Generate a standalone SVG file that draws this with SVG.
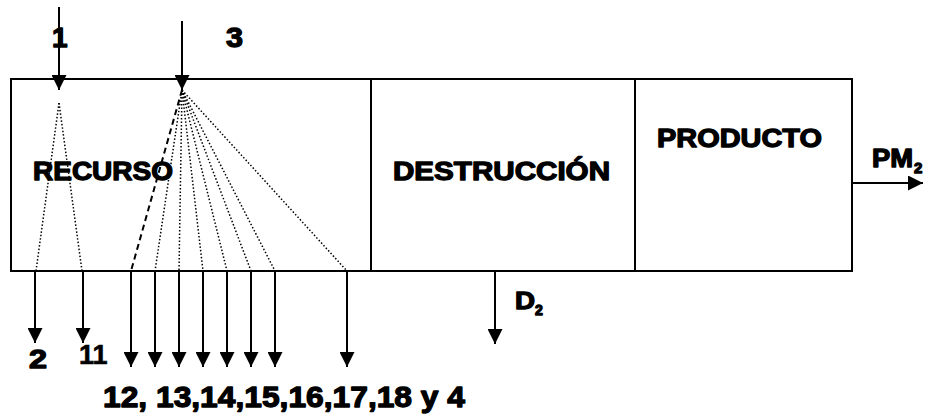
<svg xmlns="http://www.w3.org/2000/svg" width="931" height="417" viewBox="0 0 931 417">
<style>
.box{fill:#fff;stroke:#000;stroke-width:2}
.arr{fill:none;stroke:#000;stroke-width:2;marker-end:url(#ah)}
.dot{fill:none;stroke:#000;stroke-width:1.5;stroke-dasharray:1.5 2}
.dash{fill:none;stroke:#000;stroke-width:2;stroke-dasharray:6 4}
.t{font-family:"Liberation Sans",Arial,sans-serif;font-weight:bold;fill:#000}
.h{stroke:#000;stroke-width:1.3;stroke-linejoin:round}
.m{stroke:#000;stroke-width:0.6}
</style>
<defs>
<marker id="ah" markerUnits="userSpaceOnUse" markerWidth="16" markerHeight="15" refX="15" refY="7.5" orient="auto" viewBox="0 0 16 15">
<path d="M0,0 L15,7.5 L0,15 z" fill="#000"/>
</marker>
</defs>
<rect width="931" height="417" fill="#fff"/>
<g id="recurso">
<rect class="box" x="11" y="79" width="360" height="192"/>
<text class="t h" x="33" y="180" font-size="26" textLength="140" lengthAdjust="spacingAndGlyphs">RECURSO</text>
</g>
<g id="destruccion">
<rect class="box" x="371" y="79" width="264" height="192"/>
<text class="t h" x="393" y="180" font-size="26" textLength="217" lengthAdjust="spacingAndGlyphs">DESTRUCCIÓN</text>
</g>
<g id="producto">
<rect class="box" x="635" y="79" width="217" height="192"/>
<text class="t h" x="657" y="147" font-size="26" textLength="165" lengthAdjust="spacingAndGlyphs">PRODUCTO</text>
</g>
<g id="connectors">
<line class="arr" x1="59" y1="7" x2="59" y2="90"/>
<line class="arr" x1="182" y1="21" x2="182" y2="90"/>
<line class="dot" x1="59" y1="103" x2="36" y2="271"/>
<line class="dot" x1="59" y1="103" x2="82" y2="271"/>
<line class="dash" x1="182" y1="90" x2="131" y2="271"/>
<line class="dot" x1="182" y1="90" x2="155" y2="271"/>
<line class="dot" x1="182" y1="90" x2="179" y2="271"/>
<line class="dot" x1="182" y1="90" x2="203" y2="271"/>
<line class="dot" x1="182" y1="90" x2="227" y2="271"/>
<line class="dot" x1="182" y1="90" x2="251" y2="271"/>
<line class="dot" x1="182" y1="90" x2="275" y2="271"/>
<line class="dot" x1="182" y1="90" x2="347" y2="271"/>
<line class="arr" x1="35" y1="271" x2="35" y2="343"/>
<line class="arr" x1="83" y1="271" x2="83" y2="343"/>
<line class="arr" x1="131" y1="271" x2="131" y2="367"/>
<line class="arr" x1="155" y1="271" x2="155" y2="367"/>
<line class="arr" x1="179" y1="271" x2="179" y2="367"/>
<line class="arr" x1="203" y1="271" x2="203" y2="367"/>
<line class="arr" x1="227" y1="271" x2="227" y2="367"/>
<line class="arr" x1="251" y1="271" x2="251" y2="367"/>
<line class="arr" x1="275" y1="271" x2="275" y2="367"/>
<line class="arr" x1="347" y1="271" x2="347" y2="367"/>
<line class="arr" x1="495" y1="271" x2="495" y2="344"/>
<line class="arr" x1="852" y1="183" x2="923" y2="183"/>
</g>
<g id="labels">
<text class="t h" x="52" y="47" font-size="28">1</text>
<text class="t h" x="226" y="47" font-size="28" textLength="17" lengthAdjust="spacingAndGlyphs">3</text>
<text class="t h" x="29" y="368" font-size="26" textLength="18" lengthAdjust="spacingAndGlyphs">2</text>
<text class="t m" x="79" y="364" font-size="27">11</text>
<text class="t h" x="103" y="407" font-size="30" textLength="362" lengthAdjust="spacingAndGlyphs">12, 13,14,15,16,17,18 y 4</text>
<text class="t h" x="515" y="309" font-size="24" textLength="20" lengthAdjust="spacingAndGlyphs">D</text>
<text class="t h" x="535" y="315" font-size="14">2</text>
<text class="t h" x="872" y="167" font-size="25" textLength="41" lengthAdjust="spacingAndGlyphs">PM</text>
<text class="t h" x="914" y="173" font-size="15">2</text>
</g>
</svg>
